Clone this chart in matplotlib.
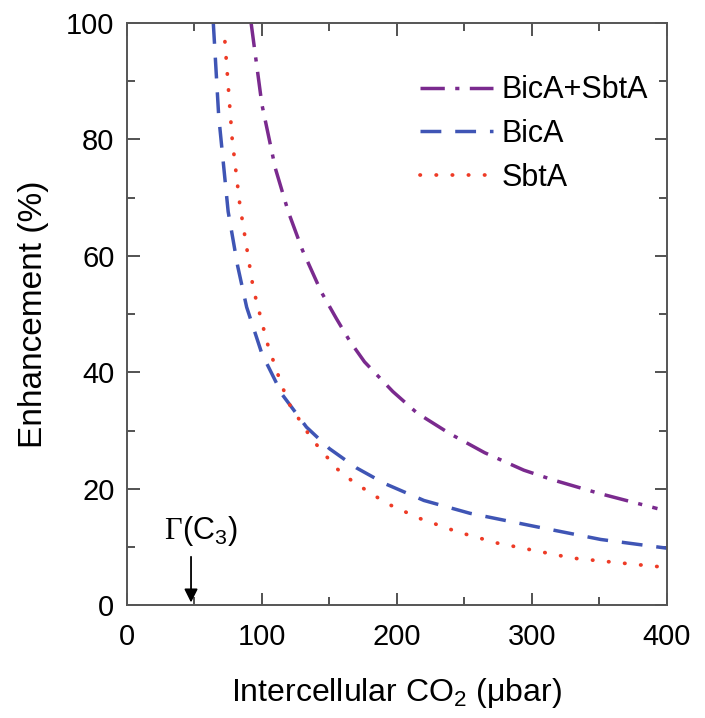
import matplotlib
matplotlib.use('Agg')
import matplotlib.pyplot as plt
from matplotlib.ticker import MultipleLocator

plt.rcParams['font.family'] = ['Liberation Sans', 'DejaVu Sans']
plt.rcParams['mathtext.fontset'] = 'custom'
plt.rcParams['mathtext.rm'] = 'Liberation Sans'

# values
both_x = [92, 100, 110, 119.5, 130, 144, 155, 165, 176, 197, 215, 239, 265, 294, 316, 350, 393]
both_y = [100, 86, 75, 67.6, 61, 53.8, 49.3, 45.4, 41.8, 36.7, 33, 29.5, 26.2, 23.2, 21.5, 19.2, 16.6]

bica_x = [64, 68, 75, 82, 88.7, 100, 115, 133, 150, 170, 191, 220, 254, 303, 351, 400]
bica_y = [100, 84, 67.6, 58.3, 51.2, 43.2, 36.2, 30.6, 26.9, 23.6, 20.9, 18, 15.8, 13.5, 11.3, 9.8]

sbta_x = [72.6, 78, 83.7, 93.6, 104, 114.6, 120.7, 136.8, 155.3, 167.6, 192.4, 217, 245, 274, 330, 386, 400]
sbta_y = [96.8, 80, 68.7, 54.4, 45, 37.8, 34.4, 28.6, 23.5, 21.2, 17.5, 14.9, 12.6, 10.7, 8.1, 6.8, 6.5]

gamma_x = 47.5

fig = plt.figure(figsize=(7.05, 7.18), dpi=100)
ax = fig.add_axes([0.180, 0.157, 0.766, 0.811])

ax.plot(both_x, both_y, color='#7a2a8e', lw=2.5, dashes=(7, 3, 1.2, 3), label='BicA+SbtA')
ax.plot(bica_x, bica_y, color='#3f55b5', lw=2.5, dashes=(6, 4), label='BicA')
ax.plot(sbta_x, sbta_y, color='#ee3b26', lw=2.7, dashes=(0.1, 4.2), dash_capstyle='round',
        label='SbtA')

ax.set_xlim(0, 400)
ax.set_ylim(0, 100)
ax.xaxis.set_major_locator(MultipleLocator(100))
ax.xaxis.set_minor_locator(MultipleLocator(50))
ax.yaxis.set_major_locator(MultipleLocator(20))
ax.yaxis.set_minor_locator(MultipleLocator(10))
ax.tick_params(which='both', direction='in', top=True, right=True, labelsize=21,
               color='#444444', width=1.3)
ax.tick_params(which='major', length=9)
ax.tick_params(axis='x', which='major', pad=13)
ax.tick_params(axis='y', which='major', pad=9)
ax.tick_params(which='minor', length=6)
for s in ax.spines.values():
    s.set_color('#555555')
    s.set_linewidth(1.4)

ax.set_xlabel('Intercellular CO$_2$ (\u03bcbar)', fontsize=23, labelpad=18)
ax.set_ylabel('Enhancement (%)', fontsize=24, labelpad=12)

# compensation point marker
ax.annotate('', xy=(gamma_x, 0), xytext=(gamma_x, 8.8),
            arrowprops=dict(arrowstyle='-|>', color='black', lw=1.3, mutation_scale=20))
ax.text(gamma_x - 7, 11.3, '\u0393', family='Liberation Serif', fontsize=22,
        ha='right', va='baseline')
ax.text(gamma_x - 7, 11.3, '(C$_3$)', fontsize=22, ha='left', va='baseline')

ax.legend(loc='upper left', bbox_to_anchor=(0.543, 0.91), frameon=False, fontsize=22,
          handlelength=2.4, handletextpad=0.26, labelspacing=0.45, borderaxespad=0,
          borderpad=0)

fig.savefig('out.png', dpi=100)
